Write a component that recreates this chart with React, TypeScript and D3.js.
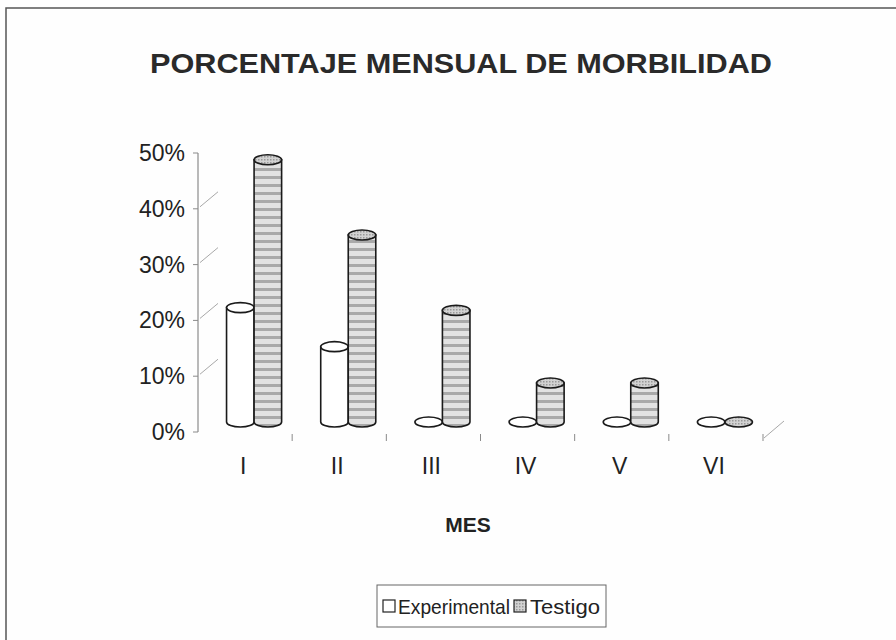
import React, { useRef, useEffect } from 'react';
import * as d3 from 'd3';

// chart data
const meses = ['I', 'II', 'III', 'IV', 'V', 'VI'];
const series = ['Experimental', 'Testigo'];
const experimental = [0.205, 0.135, 0, 0, 0, 0];
const testigo = [0.47, 0.335, 0.2, 0.07, 0.07, 0];
const yTicks = [0, 0.1, 0.2, 0.3, 0.4, 0.5];

const W = 896;
const H = 640;
const FONT = "'Liberation Sans Narrow', 'Arial Narrow', 'Liberation Sans', Arial, sans-serif";

const App = () => {
    const svgRef = useRef(null);

    useEffect(() => {
        const svg = d3.select(svgRef.current);
        svg.selectAll('*').remove();

        // grey striped fill of the Testigo cylinders
        const defs = svg.append('defs');
        const pat = defs.append('pattern')
            .attr('id', 'stripes')
            .attr('patternUnits', 'userSpaceOnUse')
            .attr('width', 6).attr('height', 8);
        pat.append('rect').attr('width', 6).attr('height', 8).attr('fill', '#e2e2e2');
        pat.append('rect').attr('y', 0).attr('width', 6).attr('height', 3).attr('fill', '#a9a9a9');
        const dots = defs.append('pattern')
            .attr('id', 'dots')
            .attr('patternUnits', 'userSpaceOnUse')
            .attr('width', 3).attr('height', 3);
        dots.append('rect').attr('width', 3).attr('height', 3).attr('fill', '#d2d2d2');
        dots.append('rect').attr('width', 1.5).attr('height', 1.5).attr('fill', '#999');

        svg.append('rect').attr('width', W).attr('height', H).attr('fill', '#fefefe');
        // outer frame (right and bottom run off the picture)
        svg.append('rect')
            .attr('x', 6).attr('y', 8).attr('width', W + 20).attr('height', H + 20)
            .attr('fill', 'none').attr('stroke', '#555').attr('stroke-width', 1.5);

        svg.append('text')
            .attr('x', 461).attr('y', 73)
            .attr('text-anchor', 'middle')
            .attr('font-family', FONT).attr('font-weight', 'bold').attr('font-size', 28)
            .attr('fill', '#2a2a2a')
            .attr('textLength', 622).attr('lengthAdjust', 'spacingAndGlyphs')
            .text('PORCENTAJE MENSUAL DE MORBILIDAD');

        const x0 = d3.scaleBand().domain(meses).range([198, 763]);
        const x1 = d3.scaleBand().domain(series).range([0, x0.bandwidth()]).paddingOuter(0.71);
        const y = d3.scaleLinear().domain([0, 0.5]).range([432, 153]);

        // 3D depth offset of the bar row
        const dx = 9;
        const dy = -10;
        const depthX = 20;
        const depthY = -17;

        // y axis line and ticks
        svg.append('line')
            .attr('x1', 198).attr('x2', 198).attr('y1', y(0.5)).attr('y2', y(0))
            .attr('stroke', '#8a8a8a').attr('stroke-width', 1.2);
        const yt = svg.append('g');
        yt.selectAll('line.tk').data(yTicks).enter().append('line')
            .attr('class', 'tk')
            .attr('x1', 193).attr('x2', 198)
            .attr('y1', d => y(d)).attr('y2', d => y(d))
            .attr('stroke', '#8a8a8a');
        // diagonal wall edges
        yt.selectAll('line.dg').data(yTicks.filter(d => d > 0 && d < 0.5)).enter().append('line')
            .attr('class', 'dg')
            .attr('x1', 200).attr('x2', 198 + depthX)
            .attr('y1', d => y(d) - 2).attr('y2', d => y(d) + depthY)
            .attr('stroke', '#a8a8a8');
        yt.selectAll('text').data(yTicks).enter().append('text')
            .attr('x', 185).attr('y', d => y(d) + 8)
            .attr('text-anchor', 'end')
            .attr('font-family', FONT).attr('font-size', 23).attr('fill', '#222')
            .text(d => d3.format('.0%')(d));

        // x axis tick marks and floor corner
        const bounds = meses.map(m => x0(m) + x0.bandwidth());
        svg.selectAll('line.xt').data(bounds).enter().append('line')
            .attr('class', 'xt')
            .attr('x1', d => d).attr('x2', d => d)
            .attr('y1', 434).attr('y2', 441)
            .attr('stroke', '#8a8a8a');
        svg.append('line')
            .attr('x1', 764).attr('y1', 438).attr('x2', 764 + depthX).attr('y2', 438 + depthY)
            .attr('stroke', '#a8a8a8');

        svg.selectAll('text.cat').data(meses).enter().append('text')
            .attr('class', 'cat')
            .attr('x', d => x0(d) + x0.bandwidth() / 2 - 2).attr('y', 474)
            .attr('text-anchor', 'middle')
            .attr('font-family', FONT).attr('font-size', 23).attr('fill', '#222')
            .text(d => d);

        svg.append('text')
            .attr('x', 468).attr('y', 532)
            .attr('text-anchor', 'middle')
            .attr('font-family', FONT).attr('font-weight', 'bold').attr('font-size', 21).attr('fill', '#222')
            .text('MES');

        // cylinders
        const rows = meses.map((m, i) => ({ mes: m, values: [experimental[i], testigo[i]] }));
        const ry = 5;
        rows.forEach(row => {
            row.values.forEach((v, j) => {
                const s = series[j];
                const cx = x0(row.mes) + x1(s) + x1.bandwidth() / 2 + dx;
                const rx = x1.bandwidth() / 2;
                const yb = y(0) + dy;
                const ytop = y(v) + dy;
                const body = j === 1 ? 'url(#stripes)' : '#fff';
                const cap = j === 1 ? 'url(#dots)' : '#fff';
                if (v > 0) {
                    svg.append('path')
                        .attr('d', `M${cx - rx},${ytop} L${cx - rx},${yb} A${rx},${ry} 0 0 0 ${cx + rx},${yb} L${cx + rx},${ytop} Z`)
                        .attr('fill', body).attr('stroke', '#1a1a1a').attr('stroke-width', 1.6);
                }
                svg.append('ellipse')
                    .attr('cx', cx).attr('cy', ytop).attr('rx', rx).attr('ry', ry)
                    .attr('fill', cap).attr('stroke', '#1a1a1a').attr('stroke-width', 1.6);
            });
        });

        // legend
        const lg = svg.append('g');
        lg.append('rect')
            .attr('x', 377).attr('y', 585).attr('width', 229).attr('height', 42)
            .attr('fill', '#fff').attr('stroke', '#666').attr('stroke-width', 1);
        const items = [
            { label: series[0], x: 383, fill: '#fff', tx: 398, len: 112 },
            { label: series[1], x: 514, fill: 'url(#dots)', tx: 530, len: 70 }
        ];
        items.forEach(it => {
            lg.append('rect')
                .attr('x', it.x).attr('y', 600).attr('width', 12).attr('height', 12)
                .attr('fill', it.fill).attr('stroke', '#222').attr('stroke-width', 1.2);
            lg.append('text')
                .attr('x', it.tx).attr('y', 614)
                .attr('font-family', FONT).attr('font-size', 21).attr('fill', '#222')
                .attr('textLength', it.len).attr('lengthAdjust', 'spacingAndGlyphs')
                .text(it.label);
        });
    }, []);

    return (
        <div style={{ position: 'absolute', left: 0, top: 0 }}>
            <svg ref={svgRef} width={W} height={H} style={{ display: 'block' }} />
        </div>
    );
};

export default App;
